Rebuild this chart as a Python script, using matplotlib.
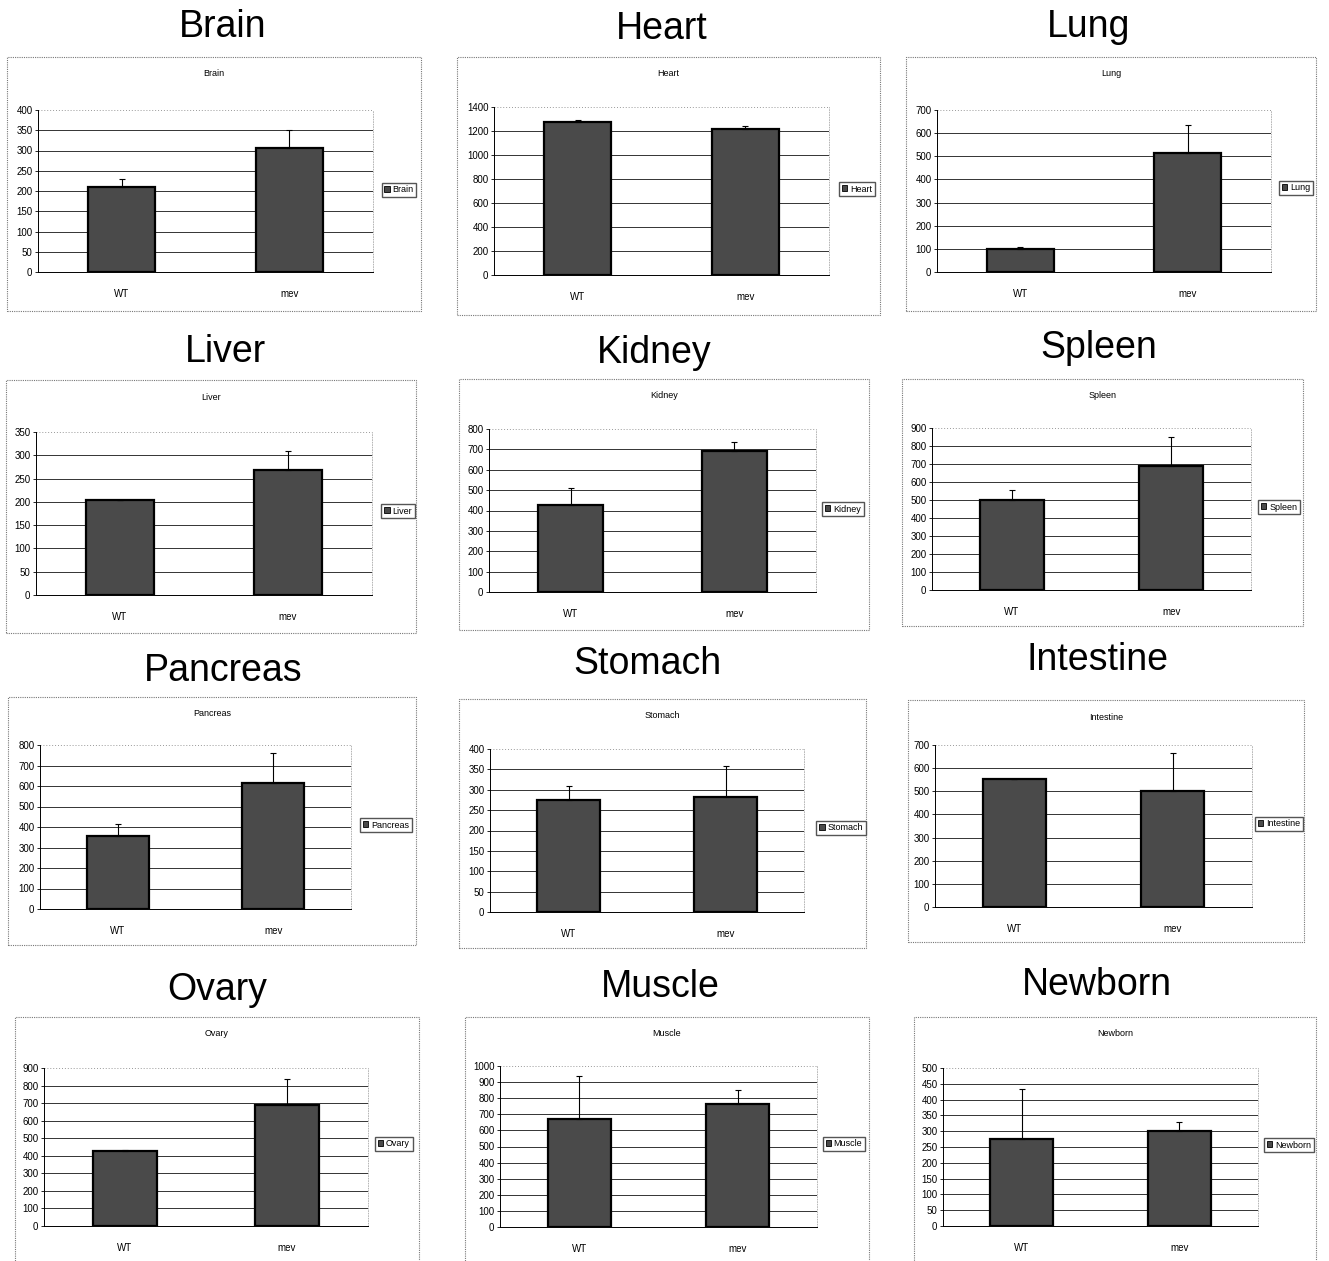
import matplotlib
matplotlib.use('Agg')
import matplotlib.pyplot as plt
from matplotlib.patches import Rectangle, Patch

W, H = 1329, 1261

organs = ['Brain', 'Heart', 'Lung', 'Liver', 'Kidney', 'Spleen',
          'Pancreas', 'Stomach', 'Intestine', 'Ovary', 'Muscle', 'Newborn']
groups = ['WT', 'mev']
wt_mean = [210, 1275, 100, 205, 425, 500, 355, 275, 555, 430, 670, 275]
wt_err = [20, 15, 10, 0, 85, 55, 60, 35, 0, 5, 265, 160]
mev_mean = [305, 1220, 515, 268, 690, 690, 615, 283, 500, 690, 765, 300]
mev_err = [45, 20, 120, 42, 45, 160, 145, 75, 165, 145, 85, 30]
y_max = [400, 1400, 700, 350, 800, 900, 800, 400, 700, 900, 1000, 500]
y_step = [50, 200, 100, 50, 100, 100, 100, 50, 100, 100, 100, 50]

# layout in pixels: chart box (l, t, r, b), plot area (l, t, r, b), big title (x, y), legend (x, y)
boxes = [(7, 57, 421, 311), (457, 57, 880, 315), (906, 57, 1316, 311),
         (6, 380, 416, 633), (459, 379, 869, 630), (902, 379, 1303, 626),
         (8, 697, 416, 945), (459, 699, 866, 948), (908, 700, 1304, 942),
         (15, 1017, 419, 1262), (465, 1017, 869, 1262), (914, 1017, 1316, 1262)]
plots = [(38, 110, 373, 272), (494, 107, 829, 275), (937, 110, 1271, 272),
         (36, 432, 372, 595), (489, 429, 816, 592), (932, 428, 1251, 590),
         (40, 745, 351, 909), (490, 749, 804, 912), (935, 745, 1252, 907),
         (44, 1068, 368, 1226), (500, 1066, 817, 1227), (943, 1068, 1258, 1226)]
titles = [(223, 27), (662, 29), (1089, 27), (225, 352), (654, 353), (1099, 348),
          (223, 671), (647, 664), (1097, 660), (217, 990), (660, 987), (1097, 985)]
legends = [(399, 190), (857, 189), (1296, 188), (398, 511), (843, 509), (1279, 507),
           (386, 825), (841, 828), (1279, 824), (394, 1144), (844, 1144), (1289, 1145)]

plt.rcParams['font.family'] = ['Liberation Sans', 'DejaVu Sans']

fig = plt.figure(figsize=(W / 100, H / 100), dpi=100)
fig.patch.set_facecolor('white')

bar_color = '#4a4a4a'

for i, name in enumerate(organs):
    bl, bt, br, bb = boxes[i]
    fig.patches.append(Rectangle((bl / W, 1 - bb / H), (br - bl) / W, (bb - bt) / H,
                                 transform=fig.transFigure, fill=False,
                                 edgecolor='#777777', linewidth=0.8, linestyle=(0, (1, 1))))
    tx, ty = titles[i]
    fig.text(tx / W, 1 - ty / H, name, fontsize=27, ha='center', va='center')
    fig.text((bl + br) / 2 / W, 1 - (bt + 17) / H, name, fontsize=6.5, ha='center', va='center')

    pl, pt, pr, pb = plots[i]
    ax = fig.add_axes([pl / W, 1 - pb / H, (pr - pl) / W, (pb - pt) / H])
    means = [wt_mean[i], mev_mean[i]]
    errs = [[0, 0], [wt_err[i], mev_err[i]]]
    ax.bar([0, 1], means, width=0.4, color=bar_color, edgecolor='black', linewidth=1.6,
           zorder=3, label=name)
    ax.errorbar([0, 1], means, yerr=errs, fmt='none', ecolor='black', elinewidth=0.8,
                capsize=2.5, capthick=0.8, zorder=4)
    ax.set_xlim(-0.5, 1.5)
    ax.set_ylim(0, y_max[i])
    ticks = list(range(0, y_max[i] + 1, y_step[i]))
    ax.set_yticks(ticks)
    ax.set_xticks([0, 1])
    ax.set_xticklabels(groups)
    ax.tick_params(axis='y', labelsize=7, length=2, width=0.6, pad=2)
    ax.tick_params(axis='x', labelsize=7, length=0, pad=12)
    for t in ticks[1:-1]:
        ax.axhline(t, color='#333333', linewidth=0.7, zorder=1)
    ax.axhline(ticks[-1], color='#999999', linewidth=0.7, linestyle=(0, (1, 2)), zorder=1)
    ax.spines['left'].set_linewidth(0.7)
    ax.spines['bottom'].set_linewidth(0.7)
    ax.spines['top'].set_visible(False)
    ax.spines['right'].set_color('#aaaaaa')
    ax.spines['right'].set_linestyle((0, (1, 2)))
    ax.spines['right'].set_linewidth(0.6)

    lx, ly = legends[i]
    fig.legend(handles=[Patch(facecolor=bar_color, edgecolor='black', linewidth=0.6, label=name)],
               loc='center', bbox_to_anchor=(lx / W, 1 - ly / H), fontsize=6.5,
               frameon=True, fancybox=False, edgecolor='#555555', framealpha=1,
               handlelength=0.6, handleheight=0.6, handletextpad=0.3,
               borderpad=0.3, borderaxespad=0)

fig.savefig('out.png', dpi=100, facecolor='white')
